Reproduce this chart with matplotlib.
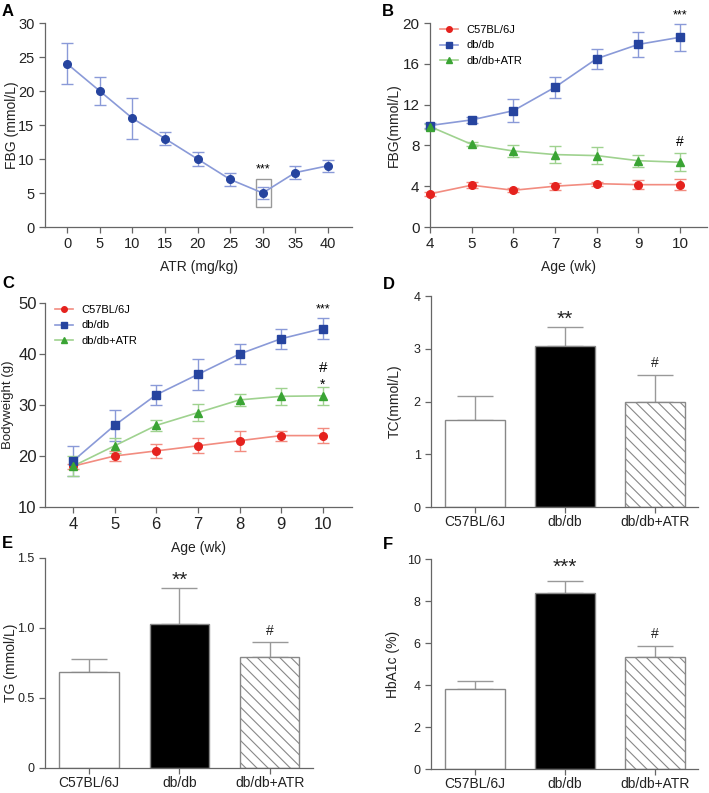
import matplotlib
matplotlib.use("Agg")
import matplotlib.pyplot as plt
from matplotlib.patches import Rectangle

plt.rcParams['font.family'] = ['Liberation Sans', 'DejaVu Sans']
plt.rcParams['hatch.color'] = '#777777'
plt.rcParams['hatch.linewidth'] = 0.8

W, H = 709, 793

# ---- data ----
dose = [0, 5, 10, 15, 20, 25, 30, 35, 40]
fbg_dose = [24, 20, 16, 13, 10, 7, 5, 8, 9]
fbg_dose_err = [3, 2, 3, 1, 1, 0.9, 0.9, 1, 0.9]

weeks = [4, 5, 6, 7, 8, 9, 10]
groups = ['C57BL/6J', 'db/db', 'db/db+ATR']

fbg_c57 = [3.25, 4.1, 3.6, 4.0, 4.25, 4.15, 4.15]
fbg_c57_err = [0.2, 0.3, 0.2, 0.35, 0.2, 0.45, 0.55]
fbg_db = [9.95, 10.5, 11.4, 13.7, 16.5, 17.9, 18.6]
fbg_db_err = [0.2, 0.3, 1.15, 1.05, 1.0, 1.25, 1.35]
fbg_atr = [9.85, 8.1, 7.45, 7.1, 7.0, 6.5, 6.35]
fbg_atr_err = [0.2, 0.2, 0.55, 0.8, 0.8, 0.6, 0.9]

bw_c57 = [18.0, 20.0, 21.0, 22.0, 23.0, 24.0, 24.0]
bw_c57_err = [0.5, 1.0, 1.3, 1.5, 2.0, 1.0, 1.5]
bw_db = [19.0, 26.0, 32.0, 36.0, 40.0, 43.0, 45.0]
bw_db_err = [3.0, 3.0, 2.0, 3.0, 2.0, 2.0, 2.0]
bw_atr = [18.0, 22.0, 26.0, 28.5, 31.0, 31.7, 31.8]
bw_atr_err = [2.0, 1.5, 1.0, 1.6, 1.2, 1.7, 1.8]

tc = [1.65, 3.06, 1.99]
tc_err = [0.46, 0.36, 0.52]
tg = [0.685, 1.032, 0.79]
tg_err = [0.095, 0.255, 0.108]
hba1c = [3.8, 8.39, 5.32]
hba1c_err = [0.37, 0.55, 0.55]

BLUE, BLUE_L = '#26449f', '#8a9ad8'
RED, RED_L = '#e5221e', '#f28c80'
GREEN, GREEN_L = '#3aa434', '#9fd28f'
AX_C = '#666666'
TXT = '#222222'

fig = plt.figure(figsize=(W / 100, H / 100), dpi=100)


def ax_at(l, t, r, b):
    return fig.add_axes([l / W, 1 - b / H, (r - l) / W, (b - t) / H])


def style(ax, size):
    for s in ['top', 'right']:
        ax.spines[s].set_visible(False)
    for s in ['left', 'bottom']:
        ax.spines[s].set_color(AX_C)
        ax.spines[s].set_linewidth(0.9)
    ax.tick_params(colors=AX_C, labelcolor=TXT, labelsize=size,
                   length=4, width=0.9, direction='out')


def line_series(ax, x, y, e, c, cl, m, ms, label=None):
    ax.errorbar(x, y, yerr=e, fmt='none', ecolor=cl, elinewidth=1.0,
                capsize=4, capthick=1.0, clip_on=False, zorder=2)
    ax.plot(x, y, '-', color=cl, lw=1.2, zorder=3, clip_on=False)
    ax.plot(x, y, m, color=c, ms=ms, ls='none', zorder=4, clip_on=False)
    if label:
        ax.plot([], [], '-', marker=m, color=cl, mfc=c, mec=c, ms=4,
                lw=1.2, label=label)


def ylab(ax, text, x, size):
    # x is where the right edge of the rotated label sits (axes coords)
    ax.set_ylabel(text, fontsize=size, color=TXT)
    ax.yaxis.set_label_coords(x, 0.5)


# ---- A ----
axA = ax_at(45, 23, 352, 227)
style(axA, 10.5)
line_series(axA, dose, fbg_dose, fbg_dose_err, BLUE, BLUE_L, 'o', 5.5)
axA.set_xlim(-3.4, 43.7)
axA.set_ylim(0, 30)
axA.set_xticks(dose)
axA.set_yticks(range(0, 31, 5))
axA.add_patch(Rectangle((28.9, 3.0), 2.3, 4.05, fill=False, ec='#999999', lw=1.0))
axA.text(30, 7.6, '***', ha='center', va='bottom', fontsize=9)
axA.set_xlabel('ATR (mg/kg)', fontsize=10, color=TXT, labelpad=6)
ylab(axA, 'FBG (mmol/L)', -0.085, 10)

# ---- B ----
axB = ax_at(430, 23, 707, 227)
style(axB, 11)
line_series(axB, weeks, fbg_c57, fbg_c57_err, RED, RED_L, 'o', 5.5, groups[0])
line_series(axB, weeks, fbg_db, fbg_db_err, BLUE, BLUE_L, 's', 6, groups[1])
line_series(axB, weeks, fbg_atr, fbg_atr_err, GREEN, GREEN_L, '^', 6, groups[2])
axB.set_xlim(4, 10.65)
axB.set_ylim(0, 20)
axB.set_xticks(weeks)
axB.set_yticks(range(0, 21, 4))
axB.text(10, 20.2, '***', ha='center', va='bottom', fontsize=9)
axB.text(10, 7.6, '#', ha='center', va='bottom', fontsize=10)
axB.set_xlabel('Age (wk)', fontsize=10, color=TXT, labelpad=6)
ylab(axB, 'FBG(mmol/L)', -0.105, 10)
axB.legend(loc='upper left', bbox_to_anchor=(0.0, 1.04), frameon=False,
           fontsize=8, handlelength=1.6, labelspacing=0.5)

# ---- C ----
axC = ax_at(45, 303, 352, 507)
style(axC, 12)
axC.tick_params(axis='y', pad=2)
line_series(axC, weeks, bw_c57, bw_c57_err, RED, RED_L, 'o', 5.5, groups[0])
line_series(axC, weeks, bw_db, bw_db_err, BLUE, BLUE_L, 's', 6, groups[1])
line_series(axC, weeks, bw_atr, bw_atr_err, GREEN, GREEN_L, '^', 6, groups[2])
axC.set_xlim(3.33, 10.7)
axC.set_ylim(10, 50)
axC.set_xticks(weeks)
axC.set_yticks(range(10, 51, 10))
axC.text(10, 47.5, '***', ha='center', va='bottom', fontsize=9)
axC.text(10, 37.2, '#', ha='center', va='center', fontsize=11)
axC.text(10, 34.0, '*', ha='center', va='center', fontsize=10)
axC.set_xlabel('Age (wk)', fontsize=10, color=TXT, labelpad=6)
ylab(axC, 'Bodyweight (g)', -0.1, 9.5)
axC.legend(loc='upper left', bbox_to_anchor=(0.0, 1.04), frameon=False,
           fontsize=8, handlelength=1.6, labelspacing=0.5)


# ---- bar panels ----
def bar_panel(ax, vals, errs, ylim, yticks, yticklabels, ylabel, lab_x,
              marks, mark_y, mark_fs):
    style(ax, 9)
    ax.tick_params(axis='x', pad=1.5)
    pos = range(len(vals))
    fills = ['white', 'black', 'white']
    hatches = [None, None, '\\\\\\']
    for p, v, e, f, h in zip(pos, vals, errs, fills, hatches):
        ax.bar(p, v, width=0.66, color=f, edgecolor='#888888', linewidth=1.0,
               hatch=h, zorder=2)
        ax.errorbar(p, v, yerr=[[0], [e]], fmt='none', ecolor='#999999',
                    elinewidth=1.0, capsize=13, capthick=1.0, zorder=1)
    for p, t, y, fs in zip(pos, marks, mark_y, mark_fs):
        if t:
            ax.text(p, y, t, ha='center', va='center', fontsize=fs, color=TXT)
    ax.set_xlim(-0.49, 2.48)
    ax.set_ylim(*ylim)
    ax.set_xticks(list(pos))
    ax.set_xticklabels(groups, fontsize=10)
    ax.set_yticks(yticks)
    ax.set_yticklabels(yticklabels)
    ylab(ax, ylabel, lab_x, 10)


axD = ax_at(431, 296, 698, 507)
bar_panel(axD, tc, tc_err, (0, 4), [0, 1, 2, 3, 4], ['0', '1', '2', '3', '4'],
          'TC(mmol/L)', -0.109, ['', '**', '#'], [0, 3.55, 2.73], [0, 15, 10])

axE = ax_at(45, 558, 313, 768)
bar_panel(axE, tg, tg_err, (0, 1.5), [0, 0.5, 1.0, 1.5], ['0', '0.5', '1.0', '1.5'],
          'TG (mmol/L)', -0.1, ['', '**', '#'], [0, 1.34, 0.98], [0, 15, 10])

axF = ax_at(431, 559, 698, 769)
bar_panel(axF, hba1c, hba1c_err, (0, 10), [0, 2, 4, 6, 8, 10],
          ['0', '2', '4', '6', '8', '10'],
          'HbA1c (%)', -0.115, ['', '***', '#'], [0, 9.6, 6.45], [0, 15, 10])

# panel letters
for lab, x, y in [('A', 2, 4), ('B', 382, 4), ('C', 2, 276), ('D', 383, 277),
                  ('E', 2, 536), ('F', 383, 537)]:
    fig.text(x / W, 1 - y / H, lab, fontsize=12, fontweight='bold', va='top', ha='left')

fig.savefig('out.png', dpi=100)
